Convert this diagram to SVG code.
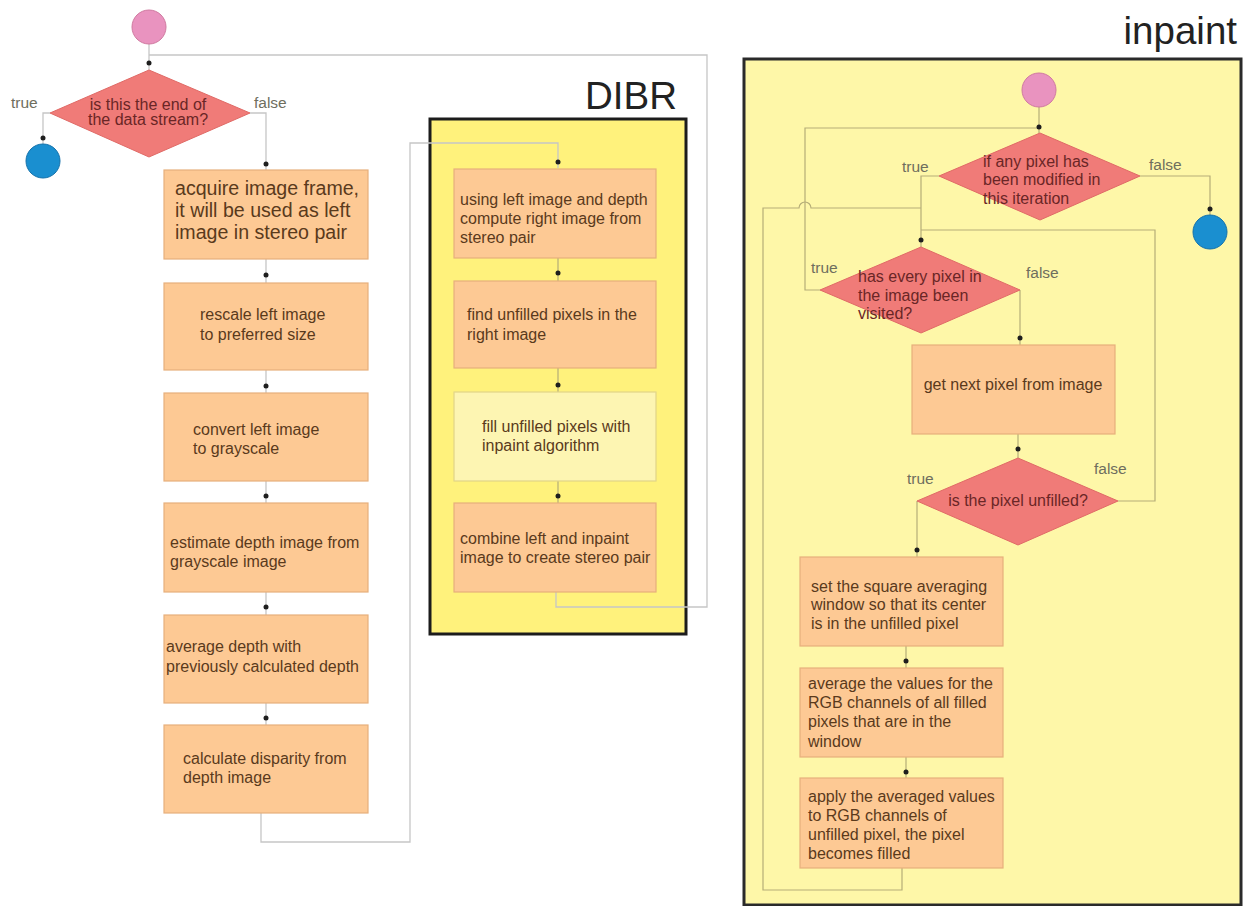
<svg xmlns="http://www.w3.org/2000/svg" width="1246" height="906" viewBox="0 0 1246 906">
<style>
.bg{fill:#ffffff}
.start{fill:#e993bf;stroke:#d07aa0;stroke-width:1}
.end{fill:#1a8fd0;stroke:#1572ab;stroke-width:1}
.dec{fill:#f07b78;stroke:#e06a66;stroke-width:1}
.box{fill:#fdc994;stroke:#e6b07c;stroke-width:1.2}
.lbox{fill:#fdf5b2;stroke:#e2d488;stroke-width:1.2}
.dibr{fill:#fff27c;stroke:#1c1c1c;stroke-width:3}
.inp{fill:#fef7a8;stroke:#2a2a2a;stroke-width:3}
.t{font-family:"Liberation Sans",Arial,sans-serif;font-size:16px;fill:#5a3a1c}
.big{font-size:19.6px}
.dt{font-family:"Liberation Sans",Arial,sans-serif;font-size:16px;fill:#6a2626}
.lab{font-family:"Liberation Sans",Arial,sans-serif;font-size:15.5px;fill:#6e6e5e}
.title{font-family:"Liberation Sans",Arial,sans-serif;font-size:38.5px;fill:#222222;text-anchor:end}
.cw{fill:none;stroke:#c6c6c6;stroke-width:1.3}
.cy{fill:none;stroke:#b5ad78;stroke-width:1.2}
.dot{fill:#1e1e1e}
</style>
<rect class="bg" x="0" y="0" width="1246" height="906"/>

<g id="containers">
  <g id="dibr-frame">
    <rect class="dibr" x="430" y="119" width="256" height="515"/>
    <text class="title" x="677" y="109">DIBR</text>
  </g>
  <g id="inpaint-frame">
    <rect class="inp" x="744" y="59" width="497" height="846"/>
    <text class="title" x="1237" y="44">inpaint</text>
  </g>
</g>

<g id="connectors">
  <path class="cw" d="M149,44 V70"/>
  <path class="cw" d="M556,592 V607 H707 V55 H149"/>
  <path class="cw" d="M50,113 H43 V144"/>
  <path class="cw" d="M250,113 H266 V170"/>
  <path class="cw" d="M266,259 V283 M266,370 V393 M266,481 V503 M266,592 V615 M266,703 V725"/>
  <path class="cw" d="M261,813 V842 H410 V143 H558 V168"/>
  <path class="cy" d="M558,258 V281 M558,368 V392 M558,481 V503"/>
  <path class="cy" d="M1039,107 V133"/>
  <path class="cy" d="M820,290 H805 V128 H1039"/>
  <path class="cy" d="M1140,176 H1210 V215"/>
  <path class="cy" d="M939,176 H921 V247"/>
  <path class="cy" d="M1020,290 V345"/>
  <path class="cy" d="M1018,434 V458"/>
  <path class="cy" d="M1118,501 H1155 V230 H921"/>
  <path class="cy" d="M917,501 V557"/>
  <path class="cy" d="M906,646 V668 M906,757 V778"/>
  <path class="cy" d="M902,868 V890 H763 V208 H799 A6,6 0 0 1 811,208 H921"/>
  <circle class="dot" cx="149" cy="63" r="2.5"/>
  <circle class="dot" cx="43" cy="138" r="2.5"/>
  <circle class="dot" cx="266" cy="164" r="2.5"/>
  <circle class="dot" cx="266" cy="275" r="2.5"/>
  <circle class="dot" cx="266" cy="386" r="2.5"/>
  <circle class="dot" cx="266" cy="496" r="2.5"/>
  <circle class="dot" cx="266" cy="607" r="2.5"/>
  <circle class="dot" cx="266" cy="718" r="2.5"/>
  <circle class="dot" cx="558" cy="162" r="2.5"/>
  <circle class="dot" cx="558" cy="273" r="2.5"/>
  <circle class="dot" cx="558" cy="385" r="2.5"/>
  <circle class="dot" cx="558" cy="496" r="2.5"/>
  <circle class="dot" cx="1039" cy="127" r="2.5"/>
  <circle class="dot" cx="1210" cy="209" r="2.5"/>
  <circle class="dot" cx="921" cy="240" r="2.5"/>
  <circle class="dot" cx="1020" cy="338" r="2.5"/>
  <circle class="dot" cx="1018" cy="449" r="2.5"/>
  <circle class="dot" cx="917" cy="550" r="2.5"/>
  <circle class="dot" cx="906" cy="661" r="2.5"/>
  <circle class="dot" cx="906" cy="772" r="2.5"/>
</g>

<g id="start-main"><circle class="start" cx="149" cy="27" r="17"/></g>
<g id="dec-end-stream">
  <polygon class="dec" points="149,70 250,113 149,157 50,113"/>
  <text class="dt" x="148" y="110" text-anchor="middle">is this the end of</text>
  <text class="dt" x="148" y="125" text-anchor="middle">the data stream?</text>
  <text class="lab" x="11" y="108">true</text>
  <text class="lab" x="254" y="108">false</text>
</g>
<g id="end-main"><circle class="end" cx="43" cy="161" r="17"/></g>

<g id="acquire">
  <rect class="box" x="164" y="170" width="204" height="89"/>
  <text class="t big" x="175" y="195">acquire image frame,</text>
  <text class="t big" x="175" y="217">it will be used as left</text>
  <text class="t big" x="175" y="239">image in stereo pair</text>
</g>
<g id="rescale">
  <rect class="box" x="164" y="283" width="204" height="87"/>
  <text class="t" x="200" y="320">rescale left image</text>
  <text class="t" x="200" y="340">to preferred size</text>
</g>
<g id="convert">
  <rect class="box" x="164" y="393" width="204" height="88"/>
  <text class="t" x="193" y="435">convert left image</text>
  <text class="t" x="193" y="454">to grayscale</text>
</g>
<g id="estimate">
  <rect class="box" x="164" y="503" width="204" height="89"/>
  <text class="t" x="170" y="548">estimate depth image from</text>
  <text class="t" x="170" y="567">grayscale image</text>
</g>
<g id="average-depth">
  <rect class="box" x="164" y="615" width="204" height="88"/>
  <text class="t" x="166" y="652">average depth with</text>
  <text class="t" x="166" y="672">previously calculated depth</text>
</g>
<g id="disparity">
  <rect class="box" x="164" y="725" width="204" height="88"/>
  <text class="t" x="183" y="764">calculate disparity from</text>
  <text class="t" x="183" y="783">depth image</text>
</g>

<g id="compute-right">
  <rect class="box" x="454" y="169" width="202" height="89"/>
  <text class="t" x="460" y="205">using left image and depth</text>
  <text class="t" x="460" y="224">compute right image from</text>
  <text class="t" x="460" y="243">stereo pair</text>
</g>
<g id="find-unfilled">
  <rect class="box" x="454" y="281" width="202" height="87"/>
  <text class="t" x="467" y="320">find unfilled pixels in the</text>
  <text class="t" x="467" y="340">right image</text>
</g>
<g id="fill-inpaint">
  <rect class="lbox" x="454" y="392" width="202" height="89"/>
  <text class="t" x="482" y="432">fill unfilled pixels with</text>
  <text class="t" x="482" y="451">inpaint algorithm</text>
</g>
<g id="combine">
  <rect class="box" x="454" y="503" width="202" height="89"/>
  <text class="t" x="460" y="544">combine left and inpaint</text>
  <text class="t" x="460" y="563">image to create stereo pair</text>
</g>

<g id="start-inpaint"><circle class="start" cx="1039" cy="90" r="17"/></g>
<g id="dec-modified">
  <polygon class="dec" points="1040,133 1140,176 1040,220 939,176"/>
  <text class="dt" x="983" y="167">if any pixel has</text>
  <text class="dt" x="983" y="185">been modified in</text>
  <text class="dt" x="983" y="204">this iteration</text>
  <text class="lab" x="902" y="172">true</text>
  <text class="lab" x="1149" y="170">false</text>
</g>
<g id="end-inpaint"><circle class="end" cx="1210" cy="232" r="17"/></g>
<g id="dec-visited">
  <polygon class="dec" points="921,247 1020,290 921,333 820,290"/>
  <text class="dt" x="858" y="282">has every pixel in</text>
  <text class="dt" x="858" y="301">the image been</text>
  <text class="dt" x="858" y="319">visited?</text>
  <text class="lab" x="811" y="273">true</text>
  <text class="lab" x="1026" y="278">false</text>
</g>
<g id="next-pixel">
  <rect class="box" x="912" y="345" width="203" height="89"/>
  <text class="t" x="1013" y="390" text-anchor="middle">get next pixel from image</text>
</g>
<g id="dec-unfilled">
  <polygon class="dec" points="1018,458 1118,501 1018,545 917,501"/>
  <text class="dt" x="1018" y="506" text-anchor="middle">is the pixel unfilled?</text>
  <text class="lab" x="907" y="484">true</text>
  <text class="lab" x="1094" y="474">false</text>
</g>
<g id="set-window">
  <rect class="box" x="800" y="557" width="203" height="89"/>
  <text class="t" x="811" y="592">set the square averaging</text>
  <text class="t" x="811" y="610">window so that its center</text>
  <text class="t" x="811" y="629">is in the unfilled pixel</text>
</g>
<g id="average-values">
  <rect class="box" x="800" y="668" width="203" height="89"/>
  <text class="t" x="808" y="689">average the values for the</text>
  <text class="t" x="808" y="708">RGB channels of all filled</text>
  <text class="t" x="808" y="727">pixels that are in the</text>
  <text class="t" x="808" y="747">window</text>
</g>
<g id="apply-values">
  <rect class="box" x="800" y="778" width="203" height="90"/>
  <text class="t" x="808" y="802">apply the averaged values</text>
  <text class="t" x="808" y="821">to RGB channels of</text>
  <text class="t" x="808" y="840">unfilled pixel, the pixel</text>
  <text class="t" x="808" y="859">becomes filled</text>
</g>
</svg>
